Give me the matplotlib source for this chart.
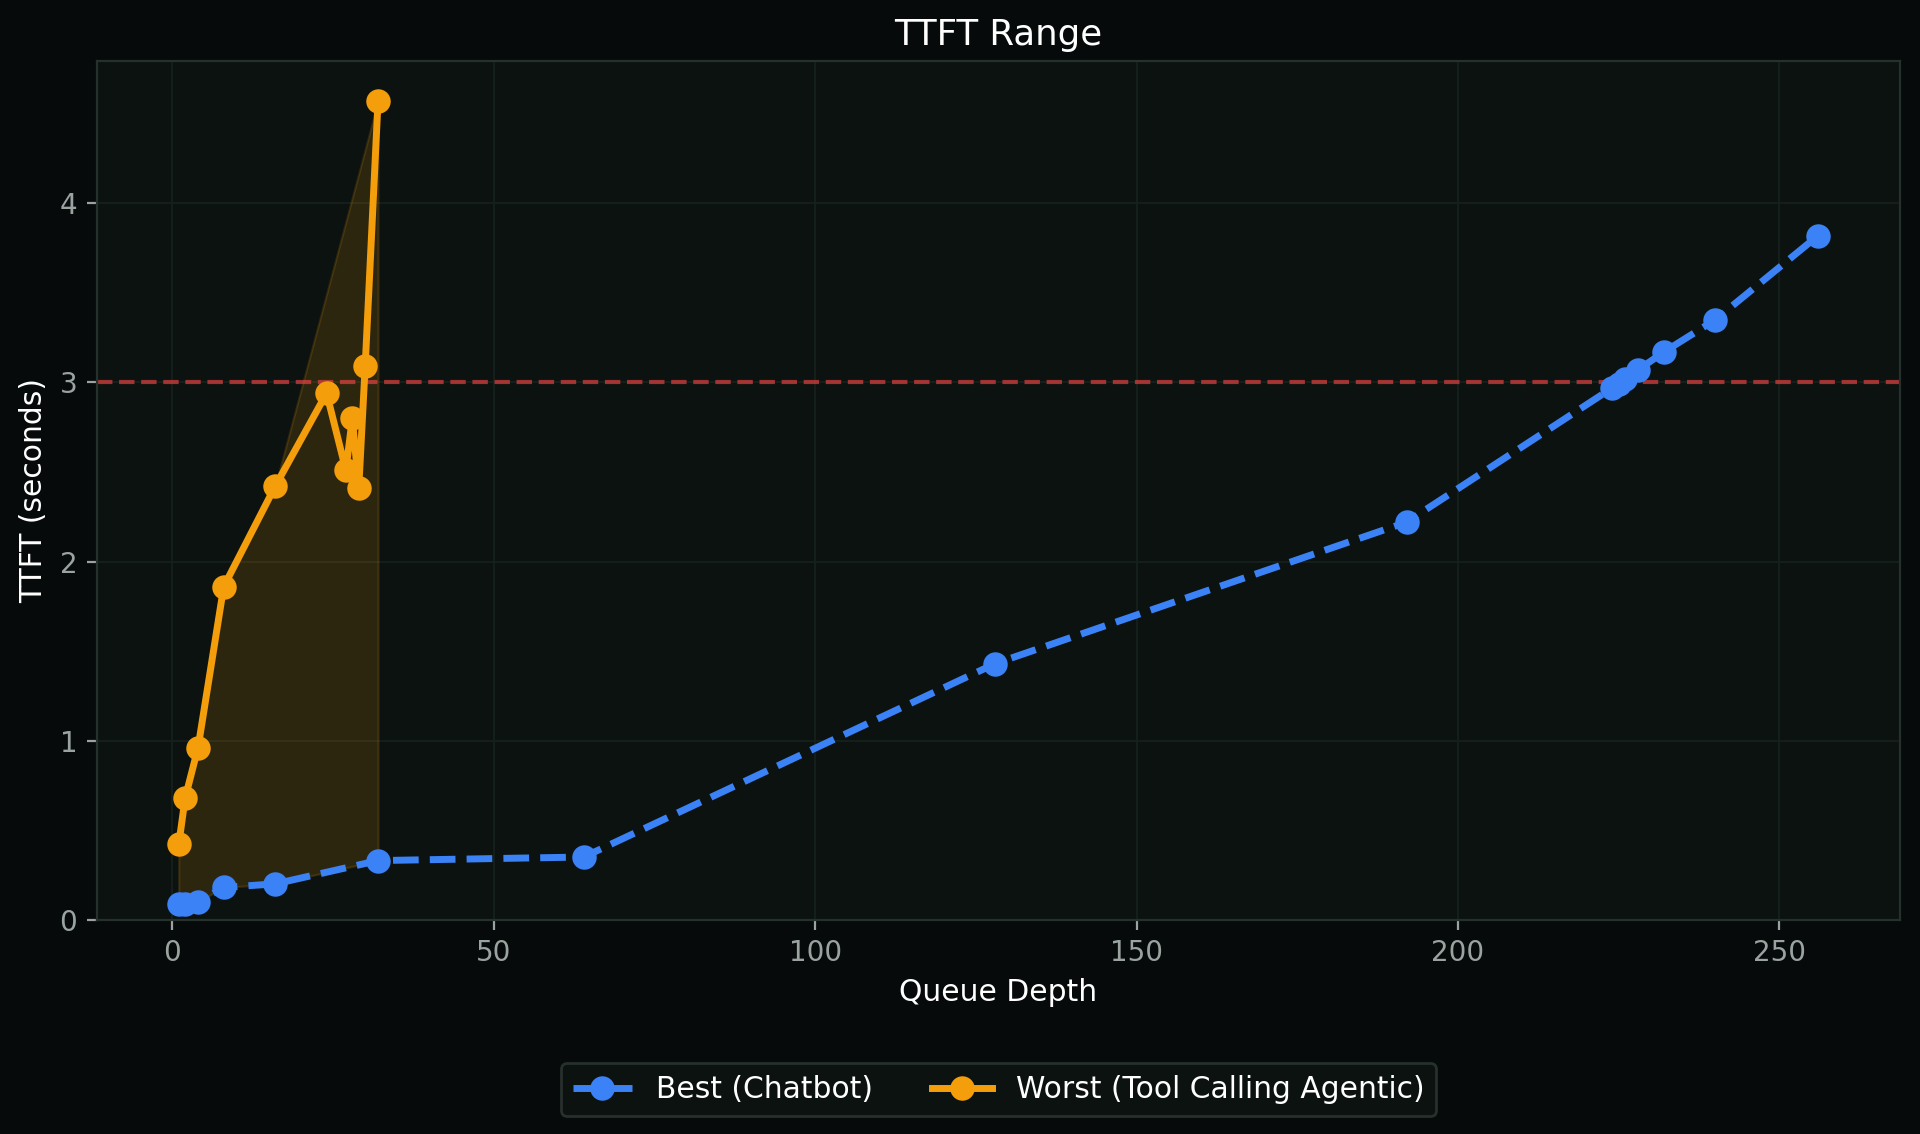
import matplotlib
matplotlib.use("Agg")
import matplotlib.pyplot as plt
import numpy as np

# Data
best_x = [1, 2, 4, 8, 16, 32, 64, 128, 192, 224, 225, 226, 228, 232, 240, 256]
best_y = [0.09, 0.09, 0.10, 0.18, 0.20, 0.33, 0.35, 1.43, 2.22, 2.97, 2.99, 3.02, 3.07, 3.17, 3.35, 3.82]
worst_x = [1, 2, 4, 8, 16, 24, 27, 28, 29, 30, 32]
worst_y = [0.42, 0.68, 0.96, 1.86, 2.42, 2.94, 2.51, 2.80, 2.41, 3.09, 4.57]
threshold = 3.0
labels = ["Best (Chatbot)", "Worst (Tool Calling Agentic)"]

FIG_BG = "#060a0a"
AX_BG = "#0b1210"
BLUE = "#3b82f6"
ORANGE = "#f59e0b"
TICK = "#9aa39f"

plt.rcParams['font.family'] = ['DejaVu Sans']
fig = plt.figure(figsize=(9.6, 5.67), dpi=200, facecolor=FIG_BG)
ax = fig.add_axes([0.0504, 0.189, 0.9392, 0.757])
ax.set_facecolor(AX_BG)

# fill between common x points
common = [x for x in best_x if x in worst_x]
bc = [best_y[best_x.index(x)] for x in common]
wc = [worst_y[worst_x.index(x)] for x in common]
ax.fill_between(common, bc, wc, color=ORANGE, alpha=0.15, linewidth=0.8, zorder=1)

ax.plot(best_x, best_y, '--', color=BLUE, lw=2.5, marker='o', markersize=7.8, label=labels[0], zorder=3)
ax.plot(worst_x, worst_y, '-', color=ORANGE, lw=2.5, marker='o', markersize=7.8, label=labels[1], zorder=4)
ax.axhline(threshold, color='#ef4444', alpha=0.65, lw=1.5, ls='--', zorder=2)

ax.set_ylim(bottom=0)
ax.grid(True, color='#16211d', lw=0.6)
ax.set_axisbelow(True)
for s in ax.spines.values():
    s.set_color('#26302c')
    s.set_linewidth(0.8)
ax.tick_params(colors=TICK, labelsize=10, length=3.5, width=0.8)
for t in ax.get_xticklabels() + ax.get_yticklabels():
    t.set_color(TICK)

ax.set_title("TTFT Range", color='white', fontsize=12.8, pad=6)
ax.set_xlabel("Queue Depth", color='white', fontsize=10.7)
ax.set_ylabel("TTFT (seconds)", color='white', fontsize=10.7)

leg = ax.legend(loc='upper center', bbox_to_anchor=(0.5, -0.15), ncol=2, fontsize=10.7,
                facecolor=AX_BG, edgecolor='#26302c', framealpha=1.0, labelcolor='white',
                columnspacing=2.0)

fig.savefig("out.png", dpi=200, facecolor=FIG_BG)
